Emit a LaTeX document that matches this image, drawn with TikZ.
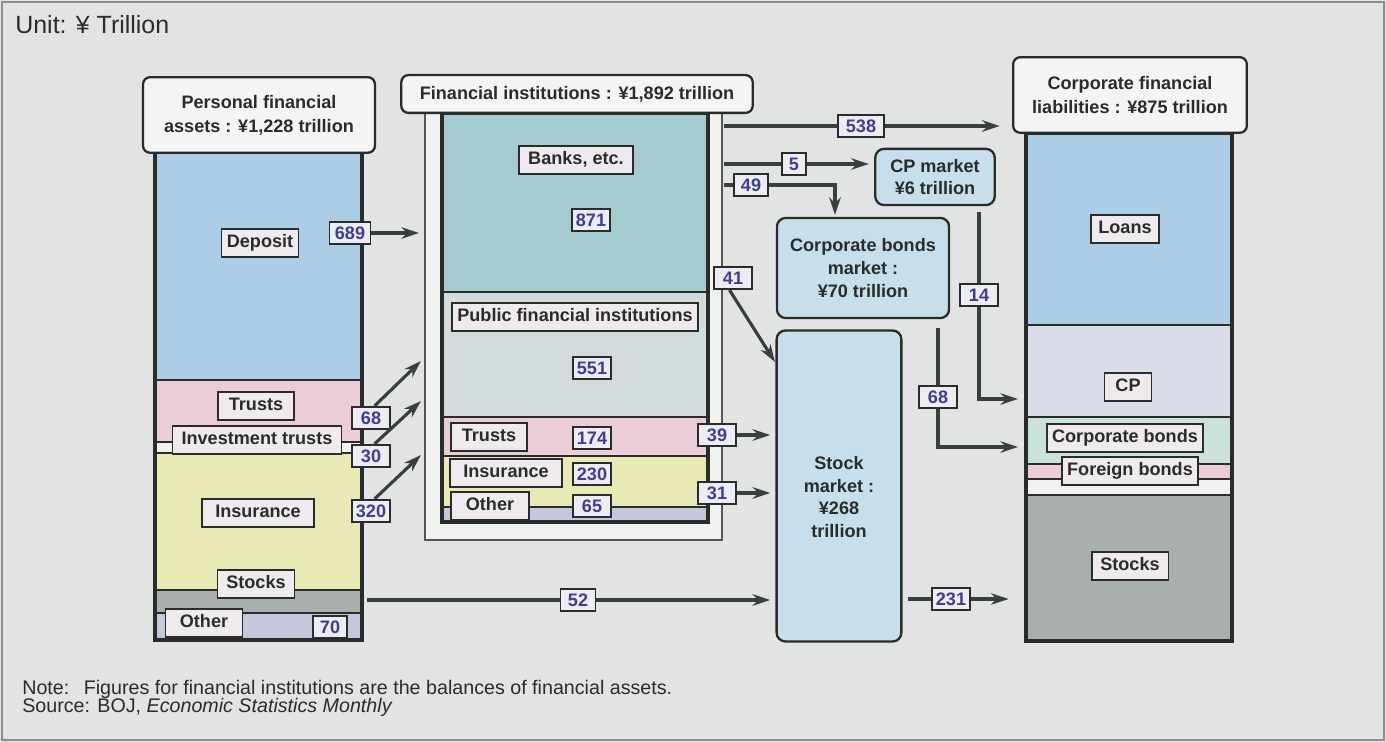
\documentclass[tikz,border=0pt]{standalone}
\usepackage{fontspec}
\setmainfont{Liberation Sans}
\usepackage{xcolor}
\usepackage{tikz}
\usetikzlibrary{arrows.meta,positioning,fit,calc}
\definecolor{inkK}{HTML}{2A2C2C}
\definecolor{bgPage}{HTML}{E2E4E3}
\definecolor{edgeG}{HTML}{8C8E8E}
\definecolor{cFlow}{HTML}{3B3E3F}
\definecolor{cNum}{HTML}{3E3F8E}
\definecolor{lNum}{HTML}{ECEDF2}
\definecolor{lTag}{HTML}{EEEAED}
\definecolor{lTitle}{HTML}{F3F4F3}
\definecolor{cDepo}{HTML}{ABCEE6}
\definecolor{cTrst}{HTML}{EACDD8}
\definecolor{cIns}{HTML}{E8E9B5}
\definecolor{cStk}{HTML}{A9AFAB}
\definecolor{cOth}{HTML}{C5C7DB}
\definecolor{cBank}{HTML}{A3CBD0}
\definecolor{cPub}{HTML}{D3DBDD}
\definecolor{cMkt}{HTML}{C7DFEA}
\definecolor{cCP}{HTML}{DADDE8}
\definecolor{cBond}{HTML}{C9E3DA}
\definecolor{lWhite}{HTML}{F1F3F1}

\begin{document}
\begin{tikzpicture}[x=0.02cm, y=-0.02cm,
    tag/.style={draw=inkK, fill=lTag, line width=0.9pt, inner xsep=3pt, inner ysep=3pt,
      text height=7.6pt, text depth=2.2pt,
      font=\fontsize{10.3}{12}\selectfont\bfseries, text=inkK},
    num/.style={draw=inkK, fill=lNum, line width=0.9pt, inner xsep=1.5pt, inner ysep=2.7pt,
      minimum width=21.5pt, text height=7.4pt, text depth=0pt,
      font=\fontsize{10.3}{12}\selectfont\bfseries, text=cNum},
    head/.style={draw=inkK, fill=lTitle, line width=1.3pt, rounded corners=4pt, align=center,
      font=\fontsize{10.3}{13.6}\selectfont\bfseries, text=inkK},
    mkt/.style={draw=inkK, fill=cMkt, line width=1.3pt, rounded corners=5pt, align=center,
      font=\fontsize{10.3}{12.9}\selectfont\bfseries, text=inkK},
    col/.style={draw=inkK, line width=1.8pt, inner sep=0pt},
    seg/.style={draw=inkK, line width=0.8pt},
    link/.style={draw=cFlow, line width=1.8pt},
    flow/.style={link, -{Stealth[length=10pt,width=6.5pt]}},
    notetext/.style={inner sep=0pt, font=\fontsize{11.2}{13}\selectfont, text=inkK},
  ]
  % page
  \path[use as bounding box, fill=bgPage] (0,0) rectangle (1386,742);
  \draw[edgeG, line width=1pt] (2,2) rectangle (1384,740);
  \node[anchor=west, inner sep=0pt, font=\fontsize{14.2}{16}\selectfont, text=inkK] (unit)
    at (15,25) {Unit: ¥ Trillion};

  % personal financial assets
  \path[seg, fill=cDepo] (155,152) rectangle (362,380);
  \path[seg, fill=cTrst] (155,380) rectangle (362,442);
  \path[seg, fill=lWhite] (155,442) rectangle (362,453);
  \path[seg, fill=cIns] (155,453) rectangle (362,590);
  \path[seg, fill=cStk] (155,590) rectangle (362,613);
  \path[seg, fill=cOth] (155,613) rectangle (362,640);
  \node[col, fit={(155,152) (362,640)}] (pers) {};
  \node[head, minimum width=132pt, minimum height=43pt] (ptitle) at (259,115)
    {Personal financial\\assets : ¥1,228 trillion};
  \node[tag] (deposit) at (260,243) {Deposit};
  \node[tag, minimum width=43pt] (ptrust) at (256,406) {Trusts};
  \node[tag, minimum width=96pt] (pinvest) at (257,440) {Investment trusts};
  \node[tag, minimum width=64pt] (pins) at (258,513) {Insurance};
  \node[tag, minimum width=43.6pt] (pstock) at (256,584) {Stocks};
  \node[tag, minimum width=44pt] (pother) at (204,623) {Other};
  \node[num, minimum width=19.5pt] (n70) at (330,627) {70};

  % financial institutions
  \node[draw=inkK!80, fill=lWhite, line width=0.8pt, inner sep=0pt,
        fit={(425,113) (722,540)}] (fiframe) {};
  \path[seg, fill=cBank] (442,113) rectangle (708,292);
  \path[seg, fill=cPub] (442,292) rectangle (708,417);
  \path[seg, fill=cTrst] (442,417) rectangle (708,456);
  \path[seg, fill=cIns] (442,456) rectangle (708,507);
  \path[seg, fill=cOth] (442,507) rectangle (708,522);
  \node[col, fit={(442,113) (708,522)}] (ficol) {};
  \node[head, minimum width=200pt, minimum height=21.5pt] (fititle) at (577,94)
    {Financial institutions : ¥1,892 trillion};
  \node[tag, minimum width=64.6pt] (bank) at (576,160) {Banks, etc.};
  \node[num] (n871) at (591,220) {871};
  \node[tag] (public) at (575,317) {Public financial institutions};
  \node[num] (n551) at (592,368) {551};
  \node[tag, minimum width=43pt] (ftrust) at (489,437) {Trusts};
  \node[num] (n174) at (592,438) {174};
  \node[tag, minimum width=64pt] (fins) at (506,473) {Insurance};
  \node[num] (n230) at (592,474) {230};
  \node[tag, minimum width=44.5pt] (fother) at (490,506) {Other};
  \node[num] (n65) at (592,506) {65};

  % markets
  \node[mkt, minimum width=68pt, minimum height=32pt] (cp) at (935,177)
    {CP market\\¥6 trillion};
  \node[mkt, minimum width=98pt, minimum height=57pt] (bondmkt) at (863,268)
    {Corporate bonds\\market :\\¥70 trillion};
  \node[mkt, minimum width=71pt, minimum height=177pt] (stockmkt) at (839,486) {};
  \node[mkt, draw=none, fill=none] (stocktxt) at (839,497)
    {Stock\\market :\\¥268\\trillion};

  % corporate financial liabilities
  \path[seg, fill=cDepo] (1026,133) rectangle (1232,325);
  \path[seg, fill=cCP] (1026,325) rectangle (1232,417);
  \path[seg, fill=cBond] (1026,417) rectangle (1232,464);
  \path[seg, fill=cTrst] (1026,464) rectangle (1232,479);
  \path[seg, fill=lWhite] (1026,479) rectangle (1232,495);
  \path[seg, fill=cStk] (1026,495) rectangle (1232,641);
  \node[col, fit={(1026,133) (1232,641)}] (corp) {};
  \node[head, minimum width=133pt, minimum height=43pt] (ctitle) at (1130,95)
    {Corporate financial\\liabilities : ¥875 trillion};
  \node[tag, minimum width=38.5pt] (loans) at (1125,229) {Loans};
  \node[tag, minimum width=26.6pt] (cpl) at (1128,387) {CP};
  \node[tag] (cbond) at (1125,438) {Corporate bonds};
  \node[tag] (fbond) at (1130,471) {Foreign bonds};
  \node[tag, minimum width=43.6pt] (cstock) at (1130,566) {Stocks};

  % flows: households
  \node[num, minimum width=23.5pt] (n689) at (350,233) {689};
  \node[num] (n68a) at (371,418) {68};
  \node[num] (n30) at (371,456) {30};
  \node[num] (n320) at (371,511) {320};
  \node[num, minimum width=20pt] (n52) at (578,600) {52};
  \coordinate (in68a) at (421,361);
  \coordinate (in30) at (421,401);
  \coordinate (in320) at (421,455);
  \draw[flow, shorten >=3pt] (n689.east) -- (n689 -| fiframe.west);
  \draw[flow] ([xshift=2pt]n68a.north) -- (in68a);
  \draw[flow] ([xshift=2pt]n30.north) -- (in30);
  \draw[flow] ([xshift=2pt]n320.north) -- (in320);
  \draw[link, shorten <=2pt] (n52 -| pers.east) -- (n52.west);
  \draw[flow, shorten >=3pt] (n52.east) -- (n52 -| stockmkt.west);

  % flows: financial institutions
  \node[num, minimum width=26pt] (n538) at (861,126) {538};
  \node[num, minimum width=13.5pt] (n5) at (794,164) {5};
  \node[num, minimum width=19.5pt] (n49) at (751,185) {49};
  \node[num] (n41) at (733,278) {41};
  \node[num] (n39) at (717,435) {39};
  \node[num] (n31) at (717,493) {31};
  \coordinate (in49) at (835,215);
  \coordinate (in41) at (775,362);
  \draw[link, shorten <=1pt] (n538 -| fiframe.east) -- (n538.west);
  \draw[flow, shorten >=7pt] (n538.east) -- (n538 -| ctitle.west);
  \draw[link, shorten <=1pt] (n5 -| fiframe.east) -- (n5.west);
  \draw[flow, shorten >=3pt] (n5.east) -- (n5 -| cp.west);
  \draw[link, shorten <=1pt] (n49 -| fiframe.east) -- (n49.west);
  \draw[flow] (n49.east) -| (in49);
  \draw[flow] ([xshift=-2pt]n41.south) -- (in41);
  \draw[flow, shorten >=3pt] (n39.east) -- (n39 -| stockmkt.west);
  \draw[flow, shorten >=3pt] (n31.east) -- (n31 -| stockmkt.west);

  % flows: markets to corporations
  \node[num] (n14) at (979,295) {14};
  \node[num] (n68b) at (938,397) {68};
  \node[num] (n231) at (951,599) {231};
  \coordinate (in14) at (1018,399);
  \coordinate (in68b) at (1018,447);
  \draw[link, shorten <=3pt] (n14 |- cp.south) -- (n14.north);
  \draw[flow] (n14.south) |- (in14);
  \draw[link, shorten <=5pt] (n68b |- bondmkt.south) -- (n68b.north);
  \draw[flow] (n68b.south) |- (in68b);
  \draw[link, shorten <=3pt] (n231 -| stockmkt.east) -- (n231.west);
  \draw[flow, shorten >=9pt] (n231.east) -- (n231 -| corp.west);

  % notes
  \node[notetext, anchor=base west] (note) at (22,695)
    {\makebox[35pt][l]{Note:}Figures for financial institutions are the balances of financial assets.};
  \node[notetext, anchor=base west] (source) at ([yshift=-10.2pt]note.base west)
    {Source: BOJ, \textit{Economic Statistics Monthly}};
\end{tikzpicture}
\end{document}
